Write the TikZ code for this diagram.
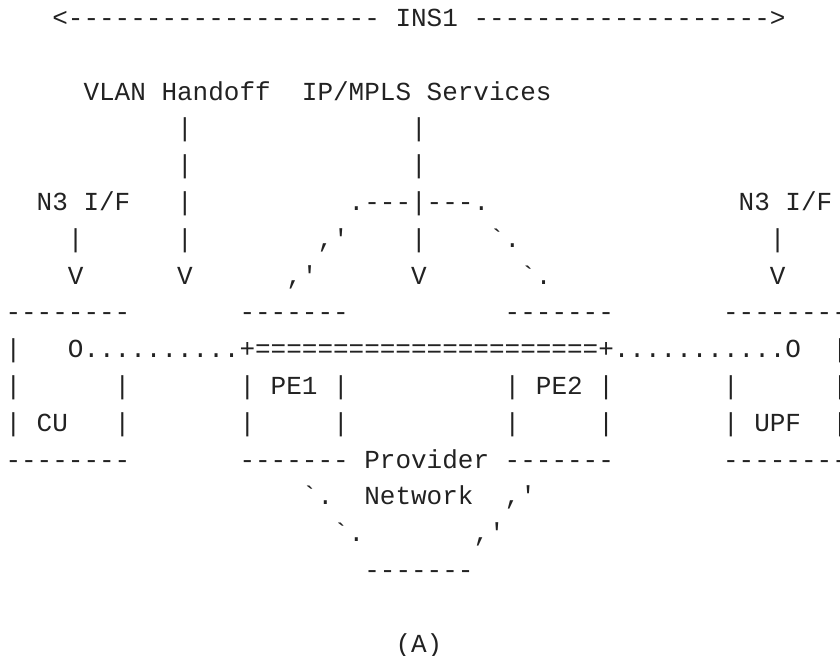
\documentclass[tikz,border=0pt]{standalone}
\usepackage{fontspec}
\setmonofont{Liberation Mono}
\usepackage{xcolor}
\definecolor{ink}{HTML}{222222}

\begin{document}
\begin{tikzpicture}[x=7.8pt, y=-18.4pt,
    txt/.style={anchor=base west, inner sep=0pt, outer sep=0pt, text=ink,
        font=\ttfamily\fontsize{13pt}{18.4pt}\selectfont}]
    \useasboundingbox (-0.353,-0.72) rectangle (53.494,17.106);

    \node[txt] (insLeft) at (3,0) {<--------------------};
    \node[txt] (insLabel) at (25,0) {INS1};
    \node[txt] (insRight) at (30,0) {------------------->};

    \node[txt] (vlanLabel) at (5,2) {VLAN Handoff};
    \node[txt] (ipLabel) at (19,2) {IP/MPLS Services};
    \node[txt] (vlanBarA) at (11,3) {|};
    \node[txt] (ipBarA) at (26,3) {|};
    \node[txt] (vlanBarB) at (11,4) {|};
    \node[txt] (ipBarB) at (26,4) {|};

    \node[txt] (cuIfLabel) at (2,5) {N3 I/F};
    \node[txt] (vlanBarC) at (11,5) {|};
    \node[txt] (cloudTop) at (22,5) {.---|---.};
    \node[txt] (upfIfLabel) at (47,5) {N3 I/F};

    \node[txt] (cuIfBar) at (4,6) {|};
    \node[txt] (vlanBarD) at (11,6) {|};
    \node[txt] (cloudUL) at (20,6) {,'};
    \node[txt] (ipBarC) at (26,6) {|};
    \node[txt] (cloudUR) at (31,6) {`.};
    \node[txt] (upfIfBar) at (49,6) {|};

    \node[txt] (cuIfTip) at (4,7) {V};
    \node[txt] (vlanTip) at (11,7) {V};
    \node[txt] (cloudLL) at (18,7) {,'};
    \node[txt] (ipTip) at (26,7) {V};
    \node[txt] (cloudLR) at (33,7) {`.};
    \node[txt] (upfIfTip) at (49,7) {V};

    \node[txt] (cuTop) at (0,8) {--------};
    \node[txt] (peOneTop) at (15,8) {-------};
    \node[txt] (peTwoTop) at (32,8) {-------};
    \node[txt] (upfTop) at (46,8) {--------};

    \node[txt] (cuSideA) at (0,9) {|};
    \node[txt] (pathLine) at (4,9) {O..........+======================+...........O};
    \node[txt] (upfSideA) at (53,9) {|};

    \node[txt] (cuSideB) at (0,10) {|};
    \node[txt] (cuSideC) at (7,10) {|};
    \node[txt] (peOneName) at (15,10) {| PE1 |};
    \node[txt] (peTwoName) at (32,10) {| PE2 |};
    \node[txt] (upfSideB) at (46,10) {|};
    \node[txt] (upfSideC) at (53,10) {|};

    \node[txt] (cuSideD) at (0,11) {|};
    \node[txt] (cuName) at (2,11) {CU};
    \node[txt] (cuSideE) at (7,11) {|};
    \node[txt] (peOneSideA) at (15,11) {|};
    \node[txt] (peOneSideB) at (21,11) {|};
    \node[txt] (peTwoSideA) at (32,11) {|};
    \node[txt] (peTwoSideB) at (38,11) {|};
    \node[txt] (upfSideD) at (46,11) {|};
    \node[txt] (upfName) at (48,11) {UPF};
    \node[txt] (upfSideE) at (53,11) {|};

    \node[txt] (cuBottom) at (0,12) {--------};
    \node[txt] (peOneBottom) at (15,12) {-------};
    \node[txt] (netLabelA) at (23,12) {Provider};
    \node[txt] (peTwoBottom) at (32,12) {-------};
    \node[txt] (upfBottom) at (46,12) {--------};

    \node[txt] (cloudBLA) at (19,13) {`.};
    \node[txt] (netLabelB) at (23,13) {Network};
    \node[txt] (cloudBRA) at (32,13) {,'};
    \node[txt] (cloudBLB) at (21,14) {`.};
    \node[txt] (cloudBRB) at (30,14) {,'};
    \node[txt] (cloudBottom) at (23,15) {-------};

    \node[txt] (caption) at (25,17) {(A)};
\end{tikzpicture}
\end{document}
